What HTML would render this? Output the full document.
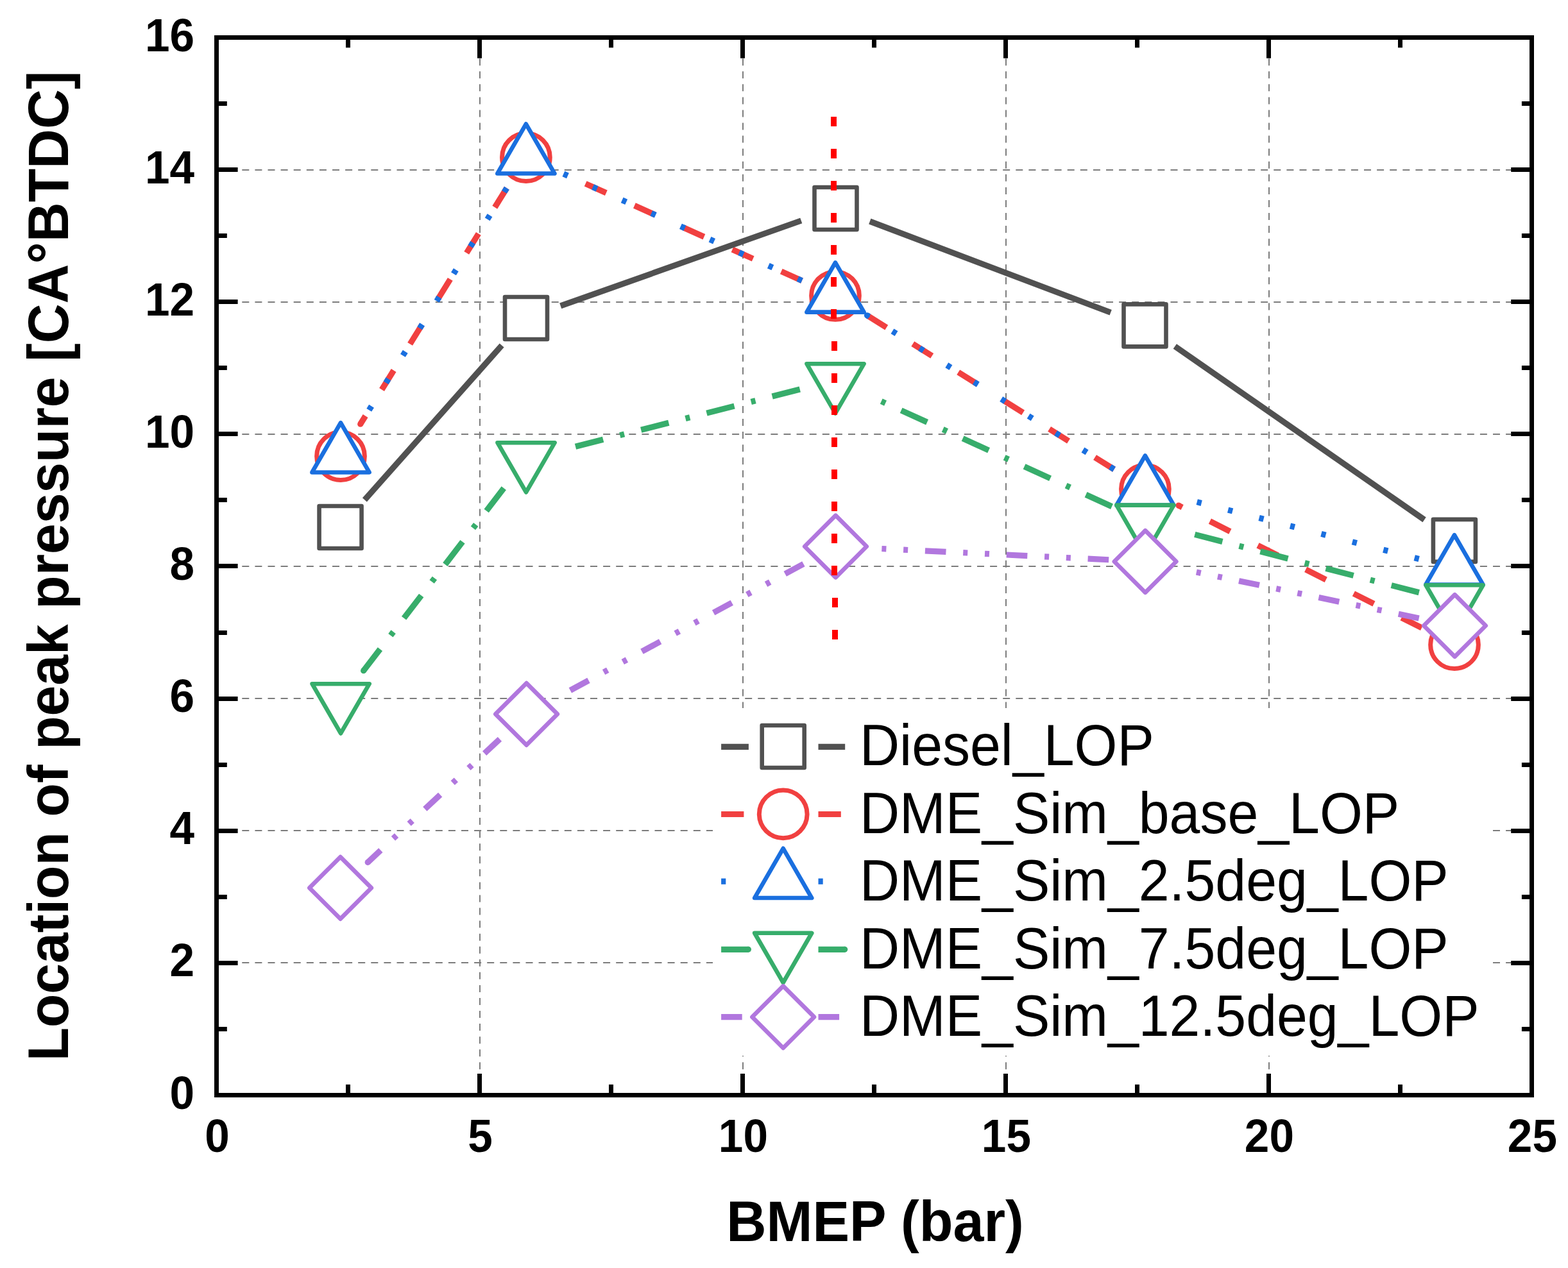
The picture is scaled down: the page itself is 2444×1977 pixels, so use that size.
<!DOCTYPE html>
<html lang="en">
<head>
<meta charset="utf-8">
<title>Location of peak pressure vs BMEP</title>
<style>
html,body{margin:0;padding:0;background:#fff;}
body{width:2444px;height:1977px;overflow:hidden;}
svg{display:block;}
text{font-family:"Liberation Sans",Arial,Helvetica,sans-serif;fill:#000;}
.tick{font-size:69.3px;font-weight:bold;}
.title{font-size:86.3px;font-weight:bold;}
.leg{font-size:86px;font-weight:normal;}
</style>
</head>
<body>
<svg width="2444" height="1977" viewBox="0 0 2444 1977"><g stroke="#7c7c7c" stroke-width="2" fill="none"><line x1="337.1" y1="1501" x2="2387.5" y2="1501" stroke-dasharray="11 9.1" /><line x1="337.1" y1="1295" x2="2387.5" y2="1295" stroke-dasharray="11 9.1" /><line x1="337.1" y1="1089" x2="2387.5" y2="1089" stroke-dasharray="11 9.1" /><line x1="337.1" y1="883" x2="2387.5" y2="883" stroke-dasharray="11 9.1" /><line x1="337.1" y1="677" x2="2387.5" y2="677" stroke-dasharray="11 9.1" /><line x1="337.1" y1="471" x2="2387.5" y2="471" stroke-dasharray="11 9.1" /><line x1="337.1" y1="265" x2="2387.5" y2="265" stroke-dasharray="11 9.1" /><line x1="748" y1="58.5" x2="748" y2="1707.5" stroke-dasharray="11 9.065" stroke-dashoffset="7.4"/><line x1="1158" y1="58.5" x2="1158" y2="1707.5" stroke-dasharray="11 9.065" stroke-dashoffset="7.4"/><line x1="1568" y1="58.5" x2="1568" y2="1707.5" stroke-dasharray="11 9.065" stroke-dashoffset="7.4"/><line x1="1978" y1="58.5" x2="1978" y2="1707.5" stroke-dasharray="11 9.065" stroke-dashoffset="7.4"/></g>
<g><g stroke="#F14040" stroke-width="9.2" fill="none"><line x1="789.87" y1="293.25" x2="771.27" y2="323.25"/><line x1="745.82" y1="364.3" x2="727.22" y2="394.3"/><line x1="701.77" y1="435.35" x2="683.17" y2="465.35"/><line x1="657.72" y1="506.41" x2="639.12" y2="536.41"/><line x1="613.67" y1="577.46" x2="595.07" y2="607.46"/><line x1="569.62" y1="648.51" x2="561.72" y2="661.25"/><circle cx="561.72" cy="661.25" r="4.6" fill="#F14040" stroke="none"/></g><g stroke="#F14040" stroke-width="9.2" fill="none"><line x1="1249.99" y1="437.59" x2="1217.77" y2="423.15"/><line x1="1173.7" y1="403.39" x2="1141.49" y2="388.95"/><line x1="1097.41" y1="369.19" x2="1065.2" y2="354.76"/><line x1="1021.13" y1="335" x2="988.91" y2="320.56"/><line x1="944.84" y1="300.8" x2="912.63" y2="286.37"/></g><g stroke="#F14040" stroke-width="9.2" fill="none"><line x1="1736.53" y1="731.75" x2="1706.57" y2="713.08"/><line x1="1665.58" y1="687.53" x2="1635.62" y2="668.85"/><line x1="1594.64" y1="643.3" x2="1564.68" y2="624.63"/><line x1="1523.69" y1="599.08" x2="1493.73" y2="580.41"/><line x1="1452.74" y1="554.86" x2="1422.79" y2="536.19"/><line x1="1381.8" y1="510.64" x2="1351.84" y2="491.97"/></g><g stroke="#F14040" stroke-width="9.2" fill="none"><line x1="2216.09" y1="978.97" x2="2184.56" y2="963.1"/><line x1="2141.42" y1="941.38" x2="2109.89" y2="925.51"/><line x1="2066.74" y1="903.79" x2="2035.21" y2="887.91"/><line x1="1992.07" y1="866.2" x2="1960.54" y2="850.32"/><line x1="1917.4" y1="828.6" x2="1885.87" y2="812.73"/><line x1="1842.73" y1="791.01" x2="1836.97" y2="788.12"/><circle cx="1836.97" cy="788.12" r="4.6" fill="#F14040" stroke="none"/></g><circle cx="531" cy="711.2" r="37.35" fill="#fff" stroke="#F14040" stroke-width="7"/><circle cx="819.9" cy="245.2" r="37.35" fill="#fff" stroke="#F14040" stroke-width="7"/><circle cx="1302" cy="461" r="37.35" fill="#fff" stroke="#F14040" stroke-width="7"/><circle cx="1784.9" cy="762.6" r="37.35" fill="#fff" stroke="#F14040" stroke-width="7"/><circle cx="2267" cy="1005.2" r="37.35" fill="#fff" stroke="#F14040" stroke-width="7"/></g>
<g><g stroke="#515151" stroke-width="9.2" fill="none"><line x1="782.16" y1="538.57" x2="568.39" y2="779.33"/></g><g stroke="#515151" stroke-width="9.2" fill="none"><line x1="1248.77" y1="343.99" x2="873.73" y2="476.91"/></g><g stroke="#515151" stroke-width="9.2" fill="none"><line x1="1731.19" y1="487.22" x2="1355.81" y2="345.13"/></g><g stroke="#515151" stroke-width="9.2" fill="none"><line x1="2220.1" y1="810.35" x2="1831.3" y2="539.95"/></g><rect x="497.55" y="788.95" width="66" height="66" fill="#fff" stroke="#515151" stroke-width="6.6" stroke-linejoin="round"/><rect x="787" y="462.95" width="66" height="66" fill="#fff" stroke="#515151" stroke-width="6.6" stroke-linejoin="round"/><rect x="1269.5" y="291.95" width="66" height="66" fill="#fff" stroke="#515151" stroke-width="6.6" stroke-linejoin="round"/><rect x="1751.5" y="474.4" width="66" height="66" fill="#fff" stroke="#515151" stroke-width="6.6" stroke-linejoin="round"/><rect x="2233.9" y="809.9" width="66" height="66" fill="#fff" stroke="#515151" stroke-width="6.6" stroke-linejoin="round"/></g>
<g><g stroke="#1A6FDF" stroke-width="9.2" fill="none"><line x1="789.82" y1="293.24" x2="786.02" y2="299.36"/><line x1="763.47" y1="335.74" x2="759.67" y2="341.86"/><line x1="737.12" y1="378.24" x2="733.33" y2="384.36"/><line x1="710.78" y1="420.73" x2="706.98" y2="426.85"/><line x1="684.43" y1="463.23" x2="680.64" y2="469.35"/><line x1="658.08" y1="505.72" x2="654.29" y2="511.84"/><line x1="631.74" y1="548.22" x2="627.94" y2="554.34"/><line x1="605.39" y1="590.71" x2="601.6" y2="596.83"/><line x1="579.04" y1="633.21" x2="575.25" y2="639.33"/></g><g stroke="#1A6FDF" stroke-width="9.2" fill="none"><line x1="1249.99" y1="437.59" x2="1243.42" y2="434.64"/><line x1="1204.36" y1="417.14" x2="1197.79" y2="414.19"/><line x1="1158.73" y1="396.69" x2="1152.16" y2="393.74"/><line x1="1113.11" y1="376.24" x2="1106.54" y2="373.29"/><line x1="1067.48" y1="355.79" x2="1060.91" y2="352.84"/><line x1="1021.85" y1="335.34" x2="1015.28" y2="332.39"/><line x1="976.23" y1="314.89" x2="969.65" y2="311.94"/><line x1="930.6" y1="294.44" x2="924.03" y2="291.49"/><line x1="884.97" y1="273.99" x2="878.4" y2="271.04"/></g><g stroke="#1A6FDF" stroke-width="9.2" fill="none"><line x1="1736.53" y1="731.75" x2="1730.42" y2="727.94"/><line x1="1694.1" y1="705.3" x2="1687.99" y2="701.49"/><line x1="1651.66" y1="678.85" x2="1645.55" y2="675.04"/><line x1="1609.23" y1="652.4" x2="1603.12" y2="648.59"/><line x1="1566.8" y1="625.95" x2="1560.69" y2="622.15"/><line x1="1524.37" y1="599.51" x2="1518.26" y2="595.7"/><line x1="1481.94" y1="573.06" x2="1475.83" y2="569.25"/><line x1="1439.5" y1="546.61" x2="1433.39" y2="542.8"/><line x1="1397.07" y1="520.16" x2="1390.96" y2="516.35"/><line x1="1354.64" y1="493.71" x2="1351.48" y2="491.74"/><circle cx="1351.48" cy="491.74" r="4.6" fill="#1A6FDF" stroke="none"/></g><g stroke="#1A6FDF" stroke-width="9.2" fill="none"><line x1="2211.69" y1="871.52" x2="2204.72" y2="869.73"/><line x1="2163.26" y1="859.08" x2="2156.29" y2="857.29"/><line x1="2114.84" y1="846.64" x2="2107.86" y2="844.85"/><line x1="2066.41" y1="834.2" x2="2059.43" y2="832.41"/><line x1="2017.98" y1="821.77" x2="2011.01" y2="819.97"/><line x1="1969.55" y1="809.33" x2="1962.58" y2="807.54"/><line x1="1921.12" y1="796.89" x2="1914.15" y2="795.1"/><line x1="1872.7" y1="784.45" x2="1865.72" y2="782.66"/></g><path d="M531 659.2 L575.6 736.45 L486.4 736.45 Z" fill="#fff" stroke="#1A6FDF" stroke-width="6.6" stroke-linejoin="round"/><path d="M819.85 193.3 L864.45 270.55 L775.25 270.55 Z" fill="#fff" stroke="#1A6FDF" stroke-width="6.6" stroke-linejoin="round"/><path d="M1302 409.4 L1346.6 486.65 L1257.4 486.65 Z" fill="#fff" stroke="#1A6FDF" stroke-width="6.6" stroke-linejoin="round"/><path d="M1784.9 710.4 L1829.5 787.65 L1740.3 787.65 Z" fill="#fff" stroke="#1A6FDF" stroke-width="6.6" stroke-linejoin="round"/><path d="M2266.9 834.2 L2311.5 911.45 L2222.3 911.45 Z" fill="#fff" stroke="#1A6FDF" stroke-width="6.6" stroke-linejoin="round"/></g>
<g><g stroke="#37AD6B" stroke-width="9.2" fill="none"><line x1="785.27" y1="761.15" x2="758.16" y2="796.44"/><line x1="741.71" y1="817.85" x2="737.44" y2="823.4"/><line x1="720.99" y1="844.81" x2="693.88" y2="880.09"/><line x1="677.43" y1="901.5" x2="673.17" y2="907.05"/><line x1="656.71" y1="928.46" x2="629.6" y2="963.75"/><line x1="613.15" y1="985.16" x2="608.89" y2="990.71"/><line x1="592.44" y1="1012.12" x2="566.62" y2="1045.72"/><circle cx="566.62" cy="1045.72" r="4.6" fill="#37AD6B" stroke="none"/></g><g stroke="#37AD6B" stroke-width="9.2" fill="none"><line x1="1246.77" y1="607.04" x2="1203.65" y2="618.05"/><line x1="1177.49" y1="624.72" x2="1170.71" y2="626.45"/><line x1="1144.55" y1="633.13" x2="1101.43" y2="644.13"/><line x1="1075.27" y1="650.81" x2="1068.48" y2="652.54"/><line x1="1042.32" y1="659.22" x2="999.2" y2="670.22"/><line x1="973.04" y1="676.9" x2="966.26" y2="678.63"/><line x1="940.1" y1="685.3" x2="896.98" y2="696.31"/></g><g stroke="#37AD6B" stroke-width="9.2" fill="none"><line x1="1733.05" y1="789.73" x2="1692.57" y2="771.25"/><line x1="1668" y1="760.04" x2="1661.64" y2="757.13"/><line x1="1637.08" y1="745.92" x2="1596.59" y2="727.44"/><line x1="1572.03" y1="716.22" x2="1565.66" y2="713.32"/><line x1="1541.1" y1="702.1" x2="1500.62" y2="683.62"/><line x1="1476.06" y1="672.41" x2="1469.69" y2="669.5"/><line x1="1445.13" y1="658.29" x2="1404.65" y2="639.81"/><line x1="1380.09" y1="628.6" x2="1373.72" y2="625.69"/></g><g stroke="#37AD6B" stroke-width="9.2" fill="none"><line x1="2211.81" y1="923.74" x2="2168.73" y2="912.6"/><line x1="2142.59" y1="905.85" x2="2135.81" y2="904.09"/><line x1="2109.67" y1="897.34" x2="2066.59" y2="886.2"/><line x1="2040.44" y1="879.45" x2="2033.67" y2="877.69"/><line x1="2007.53" y1="870.94" x2="1964.44" y2="859.8"/><line x1="1938.3" y1="853.05" x2="1931.52" y2="851.3"/><line x1="1905.38" y1="844.54" x2="1862.3" y2="833.4"/></g><path d="M531.1 1143.45 L575.7 1066.2 L486.5 1066.2 Z" fill="#fff" stroke="#37AD6B" stroke-width="6.6" stroke-linejoin="round"/><path d="M820 767.45 L864.6 690.2 L775.4 690.2 Z" fill="#fff" stroke="#37AD6B" stroke-width="6.6" stroke-linejoin="round"/><path d="M1302 644.45 L1346.6 567.2 L1257.4 567.2 Z" fill="#fff" stroke="#37AD6B" stroke-width="6.6" stroke-linejoin="round"/><path d="M1784.9 864.9 L1829.5 787.65 L1740.3 787.65 Z" fill="#fff" stroke="#37AD6B" stroke-width="6.6" stroke-linejoin="round"/><path d="M2267 989.5 L2311.6 912.25 L2222.4 912.25 Z" fill="#fff" stroke="#37AD6B" stroke-width="6.6" stroke-linejoin="round"/></g>
<g><g stroke="#B177DE" stroke-width="9.2" fill="none"><line x1="778.95" y1="1152.31" x2="755.13" y2="1174.57"/><line x1="735.55" y1="1192.87" x2="730.43" y2="1197.65"/><line x1="710.85" y1="1215.94" x2="705.73" y2="1220.72"/><line x1="686.15" y1="1239.02" x2="662.33" y2="1261.27"/><line x1="642.75" y1="1279.57" x2="637.63" y2="1284.35"/><line x1="618.05" y1="1302.64" x2="612.94" y2="1307.42"/><line x1="593.35" y1="1325.72" x2="573.2" y2="1344.55"/><circle cx="573.2" cy="1344.55" r="4.6" fill="#B177DE" stroke="none"/></g><g stroke="#B177DE" stroke-width="9.2" fill="none"><line x1="1252.4" y1="879.18" x2="1223.74" y2="894.72"/><line x1="1200.18" y1="907.5" x2="1194.03" y2="910.84"/><line x1="1170.47" y1="923.62" x2="1164.32" y2="926.95"/><line x1="1140.76" y1="939.73" x2="1112.11" y2="955.28"/><line x1="1088.55" y1="968.05" x2="1082.4" y2="971.39"/><line x1="1058.84" y1="984.17" x2="1052.69" y2="987.51"/><line x1="1029.13" y1="1000.29" x2="1000.47" y2="1015.83"/><line x1="976.92" y1="1028.61" x2="970.76" y2="1031.95"/><line x1="947.2" y1="1044.73" x2="941.05" y2="1048.06"/><line x1="917.49" y1="1060.84" x2="888.84" y2="1076.38"/></g><g stroke="#B177DE" stroke-width="9.2" fill="none"><line x1="1728.17" y1="872.73" x2="1695.61" y2="871.14"/><line x1="1668.84" y1="869.84" x2="1661.85" y2="869.5"/><line x1="1635.08" y1="868.19" x2="1628.09" y2="867.85"/><line x1="1601.32" y1="866.55" x2="1568.76" y2="864.97"/><line x1="1541.99" y1="863.66" x2="1535" y2="863.32"/><line x1="1508.23" y1="862.02" x2="1501.24" y2="861.68"/><line x1="1474.47" y1="860.37" x2="1441.91" y2="858.79"/><line x1="1415.14" y1="857.48" x2="1408.15" y2="857.14"/><line x1="1381.38" y1="855.84" x2="1374.39" y2="855.5"/></g><g stroke="#B177DE" stroke-width="9.2" fill="none"><line x1="2211.69" y1="963.93" x2="2179.77" y2="957.31"/><line x1="2153.52" y1="951.87" x2="2146.67" y2="950.45"/><line x1="2120.43" y1="945.01" x2="2113.57" y2="943.59"/><line x1="2087.33" y1="938.15" x2="2055.41" y2="931.53"/><line x1="2029.17" y1="926.09" x2="2022.31" y2="924.67"/><line x1="1996.07" y1="919.23" x2="1989.22" y2="917.81"/><line x1="1962.97" y1="912.37" x2="1931.05" y2="905.76"/><line x1="1904.81" y1="900.32" x2="1897.96" y2="898.89"/><line x1="1871.71" y1="893.45" x2="1864.86" y2="892.03"/></g><path d="M530.6 1336.05 L578.9 1384.35 L530.6 1432.65 L482.3 1384.35 Z" fill="#fff" stroke="#B177DE" stroke-width="6.6" stroke-linejoin="round"/><path d="M820.6 1065.1 L868.9 1113.4 L820.6 1161.7 L772.3 1113.4 Z" fill="#fff" stroke="#B177DE" stroke-width="6.6" stroke-linejoin="round"/><path d="M1302.5 803.7 L1350.8 852 L1302.5 900.3 L1254.2 852 Z" fill="#fff" stroke="#B177DE" stroke-width="6.6" stroke-linejoin="round"/><path d="M1785.1 827.2 L1833.4 875.5 L1785.1 923.8 L1736.8 875.5 Z" fill="#fff" stroke="#B177DE" stroke-width="6.6" stroke-linejoin="round"/><path d="M2267.5 927.2 L2315.8 975.5 L2267.5 1023.8 L2219.2 975.5 Z" fill="#fff" stroke="#B177DE" stroke-width="6.6" stroke-linejoin="round"/></g>
<g fill="#ff0000"><rect x="1295" y="182" width="9" height="15"/><rect x="1295" y="232" width="9" height="15"/><rect x="1295" y="282" width="9" height="15"/><rect x="1295" y="332" width="9" height="15"/><rect x="1295" y="382" width="9" height="15"/><rect x="1295" y="432" width="9" height="15"/><rect x="1295" y="482" width="9" height="15"/><rect x="1296" y="532" width="9" height="15"/><rect x="1296" y="582" width="9" height="15"/><rect x="1296" y="632" width="9" height="15"/><rect x="1296" y="682" width="9" height="15"/><rect x="1296" y="732" width="9" height="15"/><rect x="1296" y="782" width="9" height="15"/><rect x="1296" y="832" width="9" height="15"/><rect x="1296" y="882" width="9" height="15"/><rect x="1297" y="932" width="9" height="15"/><rect x="1297" y="982" width="9" height="15"/></g>
<rect x="337.5" y="58.5" width="2050" height="1649" fill="none" stroke="#000" stroke-width="7"/><g stroke="#000" stroke-width="7"><line x1="542.5" y1="58.5" x2="542.5" y2="74.3"/><line x1="542.5" y1="1707.5" x2="542.5" y2="1690.9"/><line x1="747.5" y1="58.5" x2="747.5" y2="90.8"/><line x1="747.5" y1="1707.5" x2="747.5" y2="1674"/><line x1="952.5" y1="58.5" x2="952.5" y2="74.3"/><line x1="952.5" y1="1707.5" x2="952.5" y2="1690.9"/><line x1="1157.5" y1="58.5" x2="1157.5" y2="90.8"/><line x1="1157.5" y1="1707.5" x2="1157.5" y2="1674"/><line x1="1362.5" y1="58.5" x2="1362.5" y2="74.3"/><line x1="1362.5" y1="1707.5" x2="1362.5" y2="1690.9"/><line x1="1567.5" y1="58.5" x2="1567.5" y2="90.8"/><line x1="1567.5" y1="1707.5" x2="1567.5" y2="1674"/><line x1="1772.5" y1="58.5" x2="1772.5" y2="74.3"/><line x1="1772.5" y1="1707.5" x2="1772.5" y2="1690.9"/><line x1="1977.5" y1="58.5" x2="1977.5" y2="90.8"/><line x1="1977.5" y1="1707.5" x2="1977.5" y2="1674"/><line x1="2182.5" y1="58.5" x2="2182.5" y2="74.3"/><line x1="2182.5" y1="1707.5" x2="2182.5" y2="1690.9"/><line x1="337.5" y1="1604.5" x2="353.8" y2="1604.5"/><line x1="2387.5" y1="1604.5" x2="2371.9" y2="1604.5"/><line x1="337.5" y1="1501.5" x2="370.6" y2="1501.5"/><line x1="2387.5" y1="1501.5" x2="2355.2" y2="1501.5"/><line x1="337.5" y1="1398.5" x2="353.8" y2="1398.5"/><line x1="2387.5" y1="1398.5" x2="2371.9" y2="1398.5"/><line x1="337.5" y1="1295.5" x2="370.6" y2="1295.5"/><line x1="2387.5" y1="1295.5" x2="2355.2" y2="1295.5"/><line x1="337.5" y1="1192.5" x2="353.8" y2="1192.5"/><line x1="2387.5" y1="1192.5" x2="2371.9" y2="1192.5"/><line x1="337.5" y1="1089.5" x2="370.6" y2="1089.5"/><line x1="2387.5" y1="1089.5" x2="2355.2" y2="1089.5"/><line x1="337.5" y1="986.5" x2="353.8" y2="986.5"/><line x1="2387.5" y1="986.5" x2="2371.9" y2="986.5"/><line x1="337.5" y1="882.5" x2="370.6" y2="882.5"/><line x1="2387.5" y1="882.5" x2="2355.2" y2="882.5"/><line x1="337.5" y1="779.5" x2="353.8" y2="779.5"/><line x1="2387.5" y1="779.5" x2="2371.9" y2="779.5"/><line x1="337.5" y1="676.5" x2="370.6" y2="676.5"/><line x1="2387.5" y1="676.5" x2="2355.2" y2="676.5"/><line x1="337.5" y1="573.5" x2="353.8" y2="573.5"/><line x1="2387.5" y1="573.5" x2="2371.9" y2="573.5"/><line x1="337.5" y1="470.5" x2="370.6" y2="470.5"/><line x1="2387.5" y1="470.5" x2="2355.2" y2="470.5"/><line x1="337.5" y1="367.5" x2="353.8" y2="367.5"/><line x1="2387.5" y1="367.5" x2="2371.9" y2="367.5"/><line x1="337.5" y1="264.5" x2="370.6" y2="264.5"/><line x1="2387.5" y1="264.5" x2="2355.2" y2="264.5"/><line x1="337.5" y1="161.5" x2="353.8" y2="161.5"/><line x1="2387.5" y1="161.5" x2="2371.9" y2="161.5"/></g>
<rect x="1111" y="1104" width="1215" height="542" fill="#fff"/>
<g><line x1="1124.1" y1="1164.4" x2="1166.9" y2="1164.4" stroke="#515151" stroke-width="9.2"/><line x1="1275.5" y1="1164.4" x2="1317.2" y2="1164.4" stroke="#515151" stroke-width="9.2"/><rect x="1187.7" y="1131" width="66" height="66" fill="#fff" stroke="#515151" stroke-width="6.6" stroke-linejoin="round"/></g>
<g><line x1="1124.1" y1="1269.5" x2="1159.4" y2="1269.5" stroke="#F14040" stroke-width="9.2"/><line x1="1275.5" y1="1269.5" x2="1310.8" y2="1269.5" stroke="#F14040" stroke-width="9.2"/><circle cx="1220.7" cy="1269.3" r="37.35" fill="#fff" stroke="#F14040" stroke-width="7"/></g>
<g><line x1="1124.1" y1="1374.2" x2="1131.3" y2="1374.2" stroke="#1A6FDF" stroke-width="9.2"/><line x1="1275.5" y1="1374.2" x2="1282.7" y2="1374.2" stroke="#1A6FDF" stroke-width="9.2"/><path d="M1220.7 1322.8 L1265.3 1400.05 L1176.1 1400.05 Z" fill="#fff" stroke="#1A6FDF" stroke-width="6.6" stroke-linejoin="round"/></g>
<g><line x1="1124.1" y1="1480.3" x2="1166.9" y2="1480.3" stroke="#37AD6B" stroke-width="9.2"/><circle cx="1166.4" cy="1480.3" r="4.6" fill="#37AD6B"/><line x1="1275.5" y1="1480.3" x2="1317.2" y2="1480.3" stroke="#37AD6B" stroke-width="9.2"/><circle cx="1316.7" cy="1480.3" r="4.6" fill="#37AD6B"/><path d="M1220.7 1532 L1265.3 1454.75 L1176.1 1454.75 Z" fill="#fff" stroke="#37AD6B" stroke-width="6.6" stroke-linejoin="round"/></g>
<g><line x1="1124.1" y1="1585.6" x2="1156.7" y2="1585.6" stroke="#B177DE" stroke-width="9.2"/><line x1="1275.5" y1="1585.6" x2="1308.1" y2="1585.6" stroke="#B177DE" stroke-width="9.2"/><path d="M1220.7 1537.4 L1269 1585.7 L1220.7 1634 L1172.4 1585.7 Z" fill="#fff" stroke="#B177DE" stroke-width="6.6" stroke-linejoin="round"/></g>
<text transform="translate(1340 1193.2) scale(1 1.052)" class="leg">Diesel_LOP</text>
<text transform="translate(1340 1298.7) scale(1 1.052)" class="leg">DME_Sim_base_LOP</text>
<text transform="translate(1340 1404.2) scale(1 1.052)" class="leg">DME_Sim_2.5deg_LOP</text>
<text transform="translate(1340 1509.7) scale(1 1.052)" class="leg">DME_Sim_7.5deg_LOP</text>
<text transform="translate(1340 1615.2) scale(1 1.052)" class="leg">DME_Sim_12.5deg_LOP</text>
<text transform="translate(303 1728.5) scale(1 1.048)" class="tick" text-anchor="end">0</text>
<text transform="translate(303 1522.38) scale(1 1.048)" class="tick" text-anchor="end">2</text>
<text transform="translate(303 1316.25) scale(1 1.048)" class="tick" text-anchor="end">4</text>
<text transform="translate(303 1110.12) scale(1 1.048)" class="tick" text-anchor="end">6</text>
<text transform="translate(303 904) scale(1 1.048)" class="tick" text-anchor="end">8</text>
<text transform="translate(303 697.88) scale(1 1.048)" class="tick" text-anchor="end">10</text>
<text transform="translate(303 491.75) scale(1 1.048)" class="tick" text-anchor="end">12</text>
<text transform="translate(303 285.62) scale(1 1.048)" class="tick" text-anchor="end">14</text>
<text transform="translate(303 79.5) scale(1 1.048)" class="tick" text-anchor="end">16</text>
<text transform="translate(338.4 1796.2) scale(1 1.048)" class="tick" text-anchor="middle">0</text>
<text transform="translate(748.4 1796.2) scale(1 1.048)" class="tick" text-anchor="middle">5</text>
<text transform="translate(1158.4 1796.2) scale(1 1.048)" class="tick" text-anchor="middle">10</text>
<text transform="translate(1568.4 1796.2) scale(1 1.048)" class="tick" text-anchor="middle">15</text>
<text transform="translate(1978.4 1796.2) scale(1 1.048)" class="tick" text-anchor="middle">20</text>
<text transform="translate(2388.4 1796.2) scale(1 1.048)" class="tick" text-anchor="middle">25</text>
<text transform="translate(1364 1934.6) scale(1 1.03)" class="title" text-anchor="middle">BMEP (bar)</text>
<text transform="translate(106 882.5) rotate(-90) scale(0.9932 1.03)" class="title" text-anchor="middle">Location of peak pressure [CA°BTDC]</text></svg>
</body>
</html>
